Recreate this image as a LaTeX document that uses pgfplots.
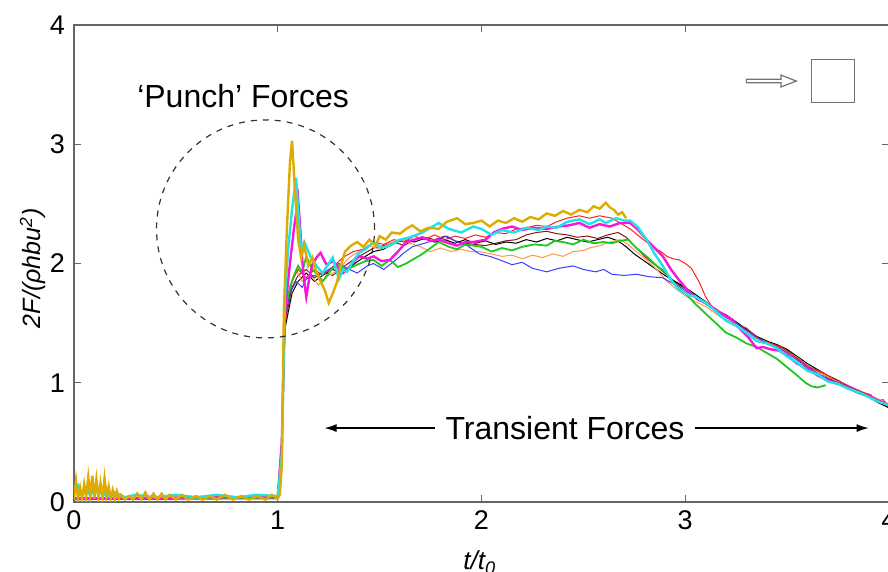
\documentclass[border=0pt]{standalone}
\usepackage{pgfplots}
\pgfplotsset{compat=1.18}
\usepackage{fontspec}
\setmainfont{Liberation Sans}
\usetikzlibrary{arrows.meta}

\definecolor{cgold}{RGB}{222,172,0}
\definecolor{ccyan}{RGB}{30,228,228}
\definecolor{cmag}{RGB}{250,20,220}
\definecolor{cblue}{RGB}{60,60,255}
\definecolor{cgreen}{RGB}{30,200,30}
\definecolor{cred}{RGB}{255,30,30}
\definecolor{corange}{RGB}{255,150,80}
\definecolor{cdred}{RGB}{140,20,20}

\begin{document}
\begin{tikzpicture}
\begin{axis}[
  width=407.5pt, height=238.5pt, scale only axis,
  xmin=0, xmax=4, ymin=0, ymax=4,
  xtick={0,1,2,3,4}, ytick={0,1,2,3,4},
  tick align=inside, tick pos=both, major tick length=3.5pt,
  axis line style={draw=black!60, line width=0.6pt},
  tick style={draw=black!60, line width=0.5pt},
  /pgf/number format/assume math mode=true,
  tick label style={font=\fontsize{13.5}{15}\selectfont},
  xticklabel style={yshift=-1pt},
  yticklabel style={xshift=-1pt},
  xlabel={\itshape t/t\textsubscript{\itshape 0}},
  ylabel={\itshape 2F/(ρhbu\textsuperscript{2})},
  every axis x label/.style={at={(axis description cs:0.498,-0.142)}, anchor=base, font=\fontsize{13}{15}\selectfont},
  every axis y label/.style={at={(axis description cs:-0.0503,0.49)}, anchor=center, rotate=90, font=\fontsize{12.5}{14}\selectfont},
  clip=true]

% thin series
\addplot[cdred, line width=0.5pt] coordinates {(0,0.03)(1.0,0.03)(1.02,0.5)(1.035,1.5)(1.07,1.8)(1.1,1.9)(1.14,1.95)(1.18,1.88)(1.22,1.93)(1.27,1.9)(1.32,1.97)(1.37,2.03)(1.42,2.08)(1.47,2.13)(1.52,2.15)(1.57,2.18)(1.62,2.15)(1.67,2.2)(1.72,2.22)(1.77,2.2)(1.82,2.23)(1.87,2.19)(1.92,2.17)(1.97,2.16)(2.02,2.15)(2.07,2.17)(2.12,2.19)(2.17,2.2)(2.22,2.24)(2.27,2.26)(2.32,2.27)(2.37,2.25)(2.42,2.24)(2.47,2.22)(2.52,2.23)(2.57,2.21)(2.62,2.24)(2.67,2.26)(2.71,2.22)(2.75,2.15)(2.8,2.06)(2.85,1.99)(2.9,1.92)(2.95,1.84)(3.0,1.79)(3.05,1.72)(3.1,1.67)(3.15,1.62)(3.2,1.55)(3.25,1.5)(3.3,1.44)(3.35,1.38)(3.4,1.33)(3.45,1.31)(3.5,1.27)(3.55,1.2)(3.6,1.14)(3.65,1.1)(3.7,1.04)(3.75,1.0)(3.8,0.95)(3.85,0.91)(3.9,0.88)(3.95,0.84)(4.0,0.79)};
\addplot[black, line width=0.5pt] coordinates {(0,0.02)(1.0,0.03)(1.02,0.5)(1.035,1.45)(1.07,1.75)(1.1,1.85)(1.14,1.92)(1.18,1.85)(1.22,1.9)(1.27,1.95)(1.32,1.92)(1.37,1.99)(1.42,2.05)(1.47,2.1)(1.52,2.12)(1.57,2.17)(1.62,2.2)(1.67,2.18)(1.72,2.21)(1.77,2.18)(1.82,2.2)(1.87,2.17)(1.92,2.2)(1.97,2.17)(2.02,2.19)(2.07,2.16)(2.12,2.18)(2.17,2.17)(2.22,2.2)(2.27,2.18)(2.32,2.21)(2.37,2.19)(2.42,2.22)(2.47,2.2)(2.52,2.18)(2.57,2.2)(2.62,2.22)(2.67,2.19)(2.71,2.14)(2.75,2.08)(2.8,2.02)(2.85,1.96)(2.9,1.9)(2.95,1.85)(3.0,1.8)(3.05,1.74)(3.1,1.68)(3.15,1.61)(3.2,1.57)(3.25,1.51)(3.3,1.45)(3.35,1.39)(3.4,1.35)(3.45,1.32)(3.5,1.28)(3.55,1.22)(3.6,1.16)(3.65,1.11)(3.7,1.06)(3.75,1.02)(3.8,0.97)(3.85,0.93)(3.9,0.88)(3.95,0.83)(4.0,0.79)};
\addplot[corange, line width=0.5pt] coordinates {(0,0.03)(1.0,0.04)(1.02,0.5)(1.035,1.5)(1.06,1.8)(1.09,1.95)(1.12,1.85)(1.16,1.9)(1.2,1.82)(1.25,1.9)(1.3,1.95)(1.35,2.05)(1.4,2.1)(1.45,2.15)(1.5,2.12)(1.55,2.17)(1.6,2.2)(1.65,2.17)(1.7,2.14)(1.75,2.1)(1.8,2.13)(1.85,2.1)(1.9,2.12)(1.95,2.1)(1.99,2.1)(2.05,2.08)(2.1,2.06)(2.15,2.07)(2.2,2.04)(2.25,2.07)(2.3,2.05)(2.35,2.08)(2.4,2.06)(2.45,2.1)(2.5,2.11)(2.53,2.13)(2.58,2.15)(2.63,2.18)(2.68,2.2)(2.72,2.16)(2.76,2.1)(2.81,2.03)(2.86,1.95)(2.91,1.85)(2.96,1.78)(3.0,1.73)(3.05,1.68)(3.1,1.64)(3.15,1.58)(3.2,1.52)(3.25,1.47)(3.3,1.42)(3.35,1.37)(3.4,1.34)(3.45,1.3)(3.5,1.26)(3.55,1.21)(3.6,1.14)(3.65,1.09)(3.7,1.05)(3.75,1.01)(3.8,0.96)(3.85,0.94)(3.9,0.9)(3.95,0.86)(4.0,0.82)};
\addplot[cred, line width=0.5pt] coordinates {(0,0.03)(1.0,0.03)(1.02,0.5)(1.035,1.5)(1.07,1.85)(1.1,1.95)(1.14,1.88)(1.18,1.95)(1.22,1.9)(1.27,1.97)(1.32,2.05)(1.37,2.1)(1.42,2.12)(1.47,2.18)(1.52,2.16)(1.57,2.2)(1.62,2.18)(1.67,2.23)(1.72,2.2)(1.77,2.24)(1.82,2.2)(1.87,2.23)(1.92,2.21)(1.97,2.24)(2.02,2.22)(2.07,2.26)(2.12,2.25)(2.17,2.29)(2.22,2.3)(2.27,2.32)(2.32,2.31)(2.37,2.35)(2.42,2.38)(2.48,2.4)(2.53,2.38)(2.58,2.4)(2.64,2.38)(2.69,2.33)(2.73,2.29)(2.78,2.22)(2.84,2.14)(2.88,2.1)(2.91,2.06)(2.94,2.04)(2.97,2.03)(3.0,2.0)(3.03,1.96)(3.07,1.84)(3.1,1.72)(3.13,1.64)(3.17,1.56)(3.21,1.52)(3.25,1.49)(3.3,1.46)(3.34,1.4)(3.38,1.35)(3.42,1.33)(3.47,1.3)(3.52,1.24)(3.57,1.18)(3.62,1.12)(3.67,1.09)(3.72,1.04)(3.77,1.0)(3.82,0.96)(3.87,0.92)(3.91,0.9)(3.94,0.84)(3.97,0.86)(4.0,0.8)};
\addplot[cblue, line width=0.5pt] coordinates {(0,0.02)(0.5,0.03)(1.0,0.03)(1.02,0.5)(1.035,1.55)(1.06,1.75)(1.09,1.85)(1.12,1.8)(1.14,1.87)(1.18,1.9)(1.22,1.92)(1.26,1.96)(1.3,2.0)(1.34,1.96)(1.39,1.92)(1.44,1.98)(1.47,2.0)(1.52,1.95)(1.55,1.99)(1.58,2.03)(1.62,2.09)(1.66,2.14)(1.7,2.16)(1.74,2.18)(1.78,2.2)(1.83,2.23)(1.88,2.18)(1.93,2.15)(1.99,2.08)(2.04,2.06)(2.09,2.03)(2.15,1.99)(2.2,2.01)(2.25,1.96)(2.32,1.93)(2.38,1.96)(2.45,1.98)(2.5,1.95)(2.56,1.93)(2.6,1.95)(2.64,1.91)(2.7,1.9)(2.76,1.91)(2.82,1.89)(2.89,1.88)(2.93,1.84)(2.97,1.81)(3.01,1.76)(3.05,1.72)(3.1,1.66)(3.15,1.6)(3.2,1.55)(3.25,1.5)(3.3,1.44)(3.35,1.38)(3.4,1.33)(3.45,1.3)(3.5,1.25)(3.55,1.19)(3.6,1.13)(3.65,1.08)(3.7,1.03)(3.75,1.0)(3.8,0.97)(3.85,0.93)(3.9,0.89)(3.95,0.85)(4.0,0.80)};
% thicker series
\addplot[cgreen, line width=0.9pt] coordinates {(0,0.03)(0.5,0.03)(1.0,0.03)(1.02,0.5)(1.035,1.6)(1.06,1.8)(1.08,1.9)(1.1,1.98)(1.12,1.93)(1.14,2.06)(1.17,1.95)(1.2,1.9)(1.22,1.85)(1.25,1.92)(1.28,1.98)(1.3,1.99)(1.34,1.95)(1.39,1.99)(1.43,2.02)(1.47,2.03)(1.51,1.98)(1.55,2.03)(1.59,1.97)(1.63,2.0)(1.67,2.04)(1.71,2.08)(1.75,2.13)(1.79,2.18)(1.84,2.14)(1.88,2.12)(1.92,2.16)(1.96,2.15)(2.0,2.14)(2.05,2.1)(2.1,2.13)(2.15,2.11)(2.2,2.14)(2.26,2.16)(2.32,2.15)(2.36,2.19)(2.4,2.18)(2.45,2.16)(2.5,2.2)(2.55,2.17)(2.6,2.18)(2.64,2.17)(2.68,2.19)(2.72,2.2)(2.76,2.13)(2.81,2.06)(2.86,1.98)(2.91,1.92)(2.95,1.82)(3.0,1.75)(3.05,1.66)(3.1,1.58)(3.15,1.5)(3.2,1.42)(3.25,1.38)(3.3,1.33)(3.35,1.3)(3.4,1.25)(3.45,1.2)(3.5,1.13)(3.55,1.06)(3.59,1.0)(3.62,0.97)(3.65,0.96)(3.69,0.98)};
\addplot[cmag, line width=1.2pt] coordinates {(0,0.03)(0.3,0.03)(0.6,0.04)(1.0,0.04)(1.02,0.5)(1.035,1.6)(1.06,2.0)(1.08,2.3)(1.1,2.54)(1.11,2.3)(1.12,2.03)(1.13,1.85)(1.14,1.72)(1.155,1.88)(1.17,1.99)(1.19,2.05)(1.21,2.09)(1.23,2.02)(1.24,1.99)(1.27,2.02)(1.3,1.96)(1.32,1.92)(1.35,1.97)(1.38,2.03)(1.4,2.06)(1.44,2.04)(1.47,2.06)(1.51,2.02)(1.55,2.03)(1.59,2.1)(1.63,2.18)(1.67,2.2)(1.71,2.22)(1.75,2.19)(1.79,2.2)(1.84,2.17)(1.88,2.15)(1.92,2.18)(1.96,2.18)(2.02,2.2)(2.06,2.26)(2.1,2.29)(2.15,2.31)(2.2,2.28)(2.25,2.3)(2.32,2.29)(2.38,2.31)(2.43,2.32)(2.48,2.34)(2.53,2.3)(2.58,2.33)(2.63,2.31)(2.68,2.34)(2.73,2.34)(2.77,2.28)(2.81,2.2)(2.85,2.13)(2.89,2.06)(2.93,1.95)(2.97,1.86)(3.01,1.78)(3.06,1.7)(3.11,1.66)(3.16,1.6)(3.2,1.56)(3.23,1.53)(3.27,1.45)(3.31,1.38)(3.35,1.29)(3.38,1.3)(3.42,1.28)(3.46,1.27)(3.5,1.23)(3.55,1.16)(3.6,1.12)(3.65,1.06)(3.7,1.02)(3.75,0.99)(3.8,0.96)(3.85,0.92)(3.9,0.89)(3.95,0.85)(4.0,0.81)};
\addplot[ccyan, line width=1.2pt] coordinates {(0,0.1)(0.02,0.14)(0.04,0.06)(0.06,0.12)(0.08,0.05)(0.1,0.13)(0.12,0.06)(0.14,0.1)(0.16,0.04)(0.2,0.08)(0.25,0.04)(0.3,0.06)(0.4,0.04)(0.5,0.06)(0.6,0.04)(0.7,0.06)(0.8,0.04)(0.9,0.06)(1.0,0.05)(1.02,0.4)(1.035,1.7)(1.05,2.1)(1.07,2.45)(1.09,2.72)(1.1,2.45)(1.115,2.1)(1.13,2.18)(1.16,2.06)(1.19,1.98)(1.22,1.92)(1.25,2.0)(1.27,2.05)(1.3,1.87)(1.32,1.95)(1.34,1.93)(1.37,2.02)(1.4,2.09)(1.43,2.12)(1.47,2.18)(1.51,2.13)(1.55,2.15)(1.6,2.2)(1.65,2.22)(1.71,2.26)(1.75,2.3)(1.79,2.34)(1.84,2.29)(1.9,2.26)(1.96,2.31)(2.0,2.29)(2.05,2.24)(2.1,2.28)(2.16,2.26)(2.22,2.3)(2.28,2.28)(2.32,2.31)(2.37,2.3)(2.42,2.35)(2.48,2.37)(2.53,2.33)(2.58,2.37)(2.61,2.34)(2.66,2.38)(2.7,2.36)(2.73,2.36)(2.77,2.3)(2.81,2.2)(2.85,2.08)(2.89,1.98)(2.93,1.86)(2.97,1.78)(3.01,1.74)(3.05,1.72)(3.1,1.67)(3.15,1.6)(3.2,1.52)(3.25,1.48)(3.3,1.42)(3.35,1.35)(3.4,1.33)(3.45,1.29)(3.5,1.22)(3.55,1.17)(3.6,1.1)(3.65,1.07)(3.7,1.01)(3.75,0.99)(3.8,0.95)(3.85,0.92)(3.9,0.88)(3.95,0.84)(4.0,0.81)};
\addplot[cgold, line width=1.2pt] coordinates {(0,0.02)(0.01,0.18)(0.02,0.03)(0.03,0.12)(0.04,0.02)(0.05,0.15)(0.06,0.04)(0.07,0.21)(0.08,0.05)(0.09,0.22)(0.10,0.03)(0.11,0.19)(0.12,0.04)(0.13,0.16)(0.14,0.03)(0.15,0.2)(0.16,0.05)(0.17,0.13)(0.18,0.03)(0.19,0.1)(0.2,0.02)(0.21,0.09)(0.22,0.03)(0.23,0.06)(0.25,0.02)(0.27,0.05)(0.29,0.02)(0.31,0.07)(0.33,0.02)(0.35,0.08)(0.37,0.02)(0.39,0.07)(0.41,0.02)(0.43,0.07)(0.45,0.02)(0.47,0.06)(0.5,0.02)(0.53,0.06)(0.56,0.02)(0.6,0.05)(0.63,0.02)(0.67,0.05)(0.7,0.02)(0.74,0.06)(0.78,0.02)(0.82,0.05)(0.86,0.02)(0.9,0.05)(0.94,0.02)(0.97,0.06)(1.0,0.03)(1.01,0.06)(1.02,0.3)(1.03,1.6)(1.045,2.3)(1.06,2.85)(1.07,3.03)(1.085,2.6)(1.1,2.2)(1.115,2.05)(1.13,2.15)(1.15,1.98)(1.17,2.05)(1.19,1.92)(1.21,1.85)(1.23,1.78)(1.25,1.67)(1.27,1.75)(1.29,1.84)(1.31,1.98)(1.33,2.1)(1.36,2.15)(1.39,2.18)(1.42,2.14)(1.45,2.2)(1.48,2.15)(1.5,2.23)(1.53,2.2)(1.56,2.26)(1.6,2.25)(1.63,2.29)(1.66,2.32)(1.7,2.27)(1.74,2.3)(1.79,2.29)(1.83,2.35)(1.88,2.38)(1.92,2.33)(1.96,2.34)(2.0,2.36)(2.04,2.31)(2.08,2.36)(2.12,2.34)(2.16,2.38)(2.2,2.35)(2.24,2.39)(2.28,2.37)(2.32,2.42)(2.36,2.4)(2.4,2.44)(2.44,2.41)(2.48,2.45)(2.52,2.43)(2.55,2.48)(2.58,2.46)(2.61,2.51)(2.63,2.47)(2.65,2.45)(2.67,2.41)(2.69,2.43)(2.71,2.38)};

% annotations
\draw[black!80, dashed, line width=0.6pt] (axis cs:0.94,2.29) circle[radius=54.5pt];
\node[font=\fontsize{16}{18}\selectfont] at (axis cs:0.83,3.40) {‘Punch’ Forces};
\draw[-{Latex[length=6pt,width=4pt]}, line width=0.6pt] (axis cs:1.77,0.62) -- (axis cs:1.23,0.62);
\draw[-{Latex[length=6pt,width=4pt]}, line width=0.6pt] (axis cs:3.05,0.62) -- (axis cs:3.90,0.62);
\node[font=\fontsize{16}{18}\selectfont] at (axis cs:2.41,0.62) {Transient Forces};
% hollow flow arrow and square body
\draw[black!55, line width=0.6pt, fill=white] (axis cs:3.30,3.545) -- (axis cs:3.47,3.545) -- (axis cs:3.47,3.58) -- (axis cs:3.545,3.53) -- (axis cs:3.47,3.48) -- (axis cs:3.47,3.515) -- (axis cs:3.30,3.515) -- cycle;
\draw[black!55, line width=0.7pt] (axis cs:3.62,3.35) rectangle (axis cs:3.83,3.71);
\end{axis}
\pgfresetboundingbox
\path[use as bounding box] ([xshift=-37pt,yshift=-35pt]current axis.south west) rectangle ([xshift=-0.5pt,yshift=12.5pt]current axis.north east);
\end{tikzpicture}
\end{document}
